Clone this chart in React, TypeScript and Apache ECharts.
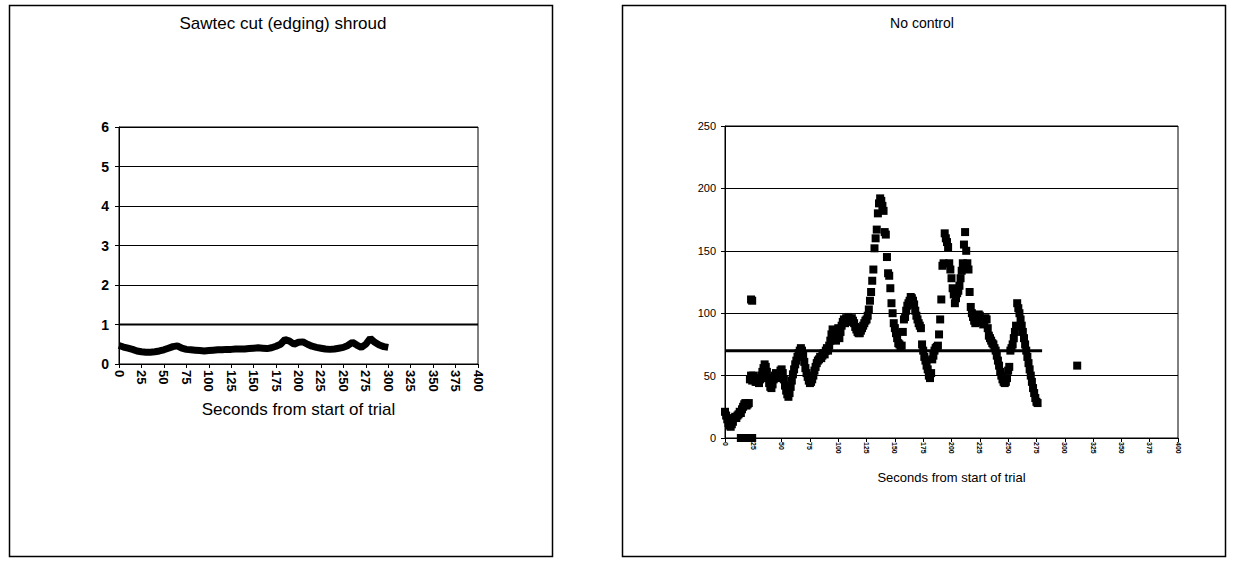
import React, { useEffect, useRef } from "react";
import * as echarts from "echarts";

const leftTitle = "Sawtec cut (edging) shroud";
const rightTitle = "No control";
const xAxisTitle = "Seconds from start of trial";

// Left panel: concentration sampled every 5 s from 0 s
const leftStepSeconds = 5;
const leftValues = [
  0.47, 0.43, 0.4, 0.37, 0.33, 0.31, 0.3, 0.3, 0.31, 0.33, 0.36, 0.4, 0.44, 0.46, 0.4, 0.37,
  0.36, 0.35, 0.34, 0.33, 0.34, 0.35, 0.36, 0.36, 0.37, 0.37, 0.38, 0.38, 0.38, 0.39, 0.4,
  0.41, 0.4, 0.39, 0.41, 0.45, 0.5, 0.62, 0.58, 0.5, 0.55, 0.56, 0.5, 0.45, 0.42, 0.4, 0.38,
  0.37, 0.38, 0.4, 0.42, 0.47, 0.55, 0.48, 0.42, 0.5, 0.65, 0.55, 0.48, 0.44, 0.42,
];
const leftLimit = 1;
const leftLimitRange = [0, 400];

// Right panel: one reading per second from 0 s
const rightValues = [
  21, 18, 15, 12, 10, 9, 11, 13, 16, 17, 16, 18, 19, 21, 20, 23, 25, 27, 28, 26,
  27, 28, 47, 50, 46, 50, 47, 45, 45, 48, 44, 47, 50, 53, 56, 59, 57, 53, 48, 44,
  41, 40, 43, 47, 50, 52, 50, 48, 51, 54, 55, 52, 47, 42, 38, 35, 33, 36, 41, 46,
  51, 55, 59, 62, 65, 68, 70, 72, 70, 66, 61, 56, 52, 49, 46, 44, 45, 47, 50, 54,
  57, 60, 62, 63, 65, 64, 66, 68, 67, 70, 72, 70, 74, 78, 83, 87, 85, 80, 78, 84,
  88, 80, 85, 90, 93, 95, 92, 96, 94, 97, 95, 93, 96, 94, 92, 89, 87, 85, 84, 84,
  86, 88, 90, 92, 94, 95, 98, 103, 110, 117, 126, 135, 152, 160, 167, 180, 188, 192, 190, 186,
  182, 165, 163, 145, 132, 130, 120, 108, 100, 92, 88, 84, 80, 76, 75, 73, 74, 85, 95, 97,
  102, 106, 108, 110, 113, 112, 110, 107, 102, 98, 95, 92, 90, 88, 75, 70, 65, 62, 58, 55,
  50, 48, 52, 63, 66, 70, 72, 73, 74, 83, 95, 111, 138, 140, 164, 160, 157, 153, 140, 135,
  128, 120, 115, 108, 112, 116, 118, 122, 128, 134, 140, 155, 165, 150, 140, 135, 117, 105, 100, 97,
  94, 92, 95, 97, 99, 98, 95, 93, 91, 93, 96, 95, 88, 82, 80, 78, 76, 75, 72, 70,
  66, 62, 58, 53, 50, 47, 45, 44, 45, 48, 54, 57, 70, 72, 75, 80, 85, 90, 108, 104,
  100, 95, 90, 85, 80, 75, 70, 65, 60, 55, 50, 45, 40, 36, 32, 29, 28,
];
const rightZeroSeconds = [14, 16, 18, 20, 22, 24];
const rightExtraPoints: [number, number][] = [
  [23, 111],
  [24, 110],
  [311, 58],
];
const rightLimit = 70;
const rightLimitRange = [0, 280];

const FONT = "'Liberation Sans', Arial, sans-serif";

export default function App() {
  const ref = useRef<HTMLDivElement>(null);

  useEffect(() => {
    if (!ref.current) return;
    const chart = echarts.init(ref.current, null, { renderer: "svg" });

    const leftData = leftValues.map((v, i) => [i * leftStepSeconds, v]);
    const rightData: [number, number][] = rightValues.map((v, i) => [i, v] as [number, number]);
    rightZeroSeconds.forEach((s) => rightData.push([s, 0]));
    rightExtraPoints.forEach((p) => rightData.push(p));

    const axisCommon = {
      axisLine: { show: true, lineStyle: { color: "#000", width: 1 } },
      axisTick: { show: true, length: 4, lineStyle: { color: "#000" } },
      splitLine: { show: true, lineStyle: { color: "#000", width: 1 } },
    };

    const option: any = {
      animation: false,
      backgroundColor: "#fff",
      textStyle: { fontFamily: FONT, color: "#000" },
      grid: [
        { left: 119, top: 127, width: 359, height: 237, show: true, borderColor: "#000", borderWidth: 1, backgroundColor: "transparent" },
        { left: 725, top: 126, width: 453, height: 312, show: true, borderColor: "#000", borderWidth: 1, backgroundColor: "transparent" },
      ],
      xAxis: [
        {
          type: "value",
          gridIndex: 0,
          min: 0,
          max: 400,
          interval: 25,
          ...axisCommon,
          splitLine: { show: false },
          axisLabel: { rotate: -90, fontSize: 13, color: "#000", margin: 6, fontFamily: FONT, fontWeight: "bold" },
          name: xAxisTitle,
          nameLocation: "middle",
          nameGap: 37,
          nameTextStyle: { fontSize: 17, color: "#000", fontFamily: FONT },
        },
        {
          type: "value",
          gridIndex: 1,
          min: 0,
          max: 400,
          interval: 25,
          ...axisCommon,
          splitLine: { show: false },
          axisLabel: { rotate: -90, fontSize: 7, color: "#000", margin: 4, fontFamily: FONT, fontWeight: "bold" },
          name: xAxisTitle,
          nameLocation: "middle",
          nameGap: 33,
          nameTextStyle: { fontSize: 13, color: "#000", fontFamily: FONT },
        },
      ],
      yAxis: [
        {
          type: "value",
          gridIndex: 0,
          min: 0,
          max: 6,
          interval: 1,
          ...axisCommon,
          axisLabel: { fontSize: 14, color: "#000", margin: 10, fontFamily: FONT, fontWeight: "bold" },
        },
        {
          type: "value",
          gridIndex: 1,
          min: 0,
          max: 250,
          interval: 50,
          ...axisCommon,
          axisLabel: { fontSize: 11, color: "#000", margin: 9, fontFamily: FONT },
        },
      ],
      series: [
        {
          type: "line",
          xAxisIndex: 0,
          yAxisIndex: 0,
          data: leftLimitRange.map((x) => [x, leftLimit]),
          showSymbol: false,
          lineStyle: { color: "#000", width: 2 },
          silent: true,
        },
        {
          type: "line",
          xAxisIndex: 0,
          yAxisIndex: 0,
          data: leftData,
          showSymbol: false,
          lineStyle: { color: "#000", width: 7 },
        },
        {
          type: "line",
          xAxisIndex: 1,
          yAxisIndex: 1,
          data: rightLimitRange.map((x) => [x, rightLimit]),
          showSymbol: false,
          lineStyle: { color: "#000", width: 3 },
          silent: true,
        },
        {
          type: "scatter",
          xAxisIndex: 1,
          yAxisIndex: 1,
          data: rightData,
          symbol: "rect",
          symbolSize: 8,
          itemStyle: { color: "#000", opacity: 1 },
        },
      ],
      graphic: [
        {
          type: "rect",
          shape: { x: 9.5, y: 5.5, width: 543, height: 551 },
          style: { fill: "none", stroke: "#000", lineWidth: 1.5 },
          silent: true,
        },
        {
          type: "rect",
          shape: { x: 622.5, y: 5.5, width: 603, height: 551 },
          style: { fill: "none", stroke: "#000", lineWidth: 1.5 },
          silent: true,
        },
        {
          type: "text",
          x: 283,
          y: 23,
          style: { text: leftTitle, fill: "#000", font: `17px ${FONT}`, textAlign: "center", textVerticalAlign: "middle" },
        },
        {
          type: "text",
          x: 922,
          y: 23,
          style: { text: rightTitle, fill: "#000", font: `14px ${FONT}`, textAlign: "center", textVerticalAlign: "middle" },
        },
      ],
    };

    chart.setOption(option);
    return () => chart.dispose();
  }, []);

  return (
    <div
      ref={ref}
      style={{ position: "fixed", left: 0, top: 0, width: 1233, height: 562, background: "#fff" }}
    />
  );
}
